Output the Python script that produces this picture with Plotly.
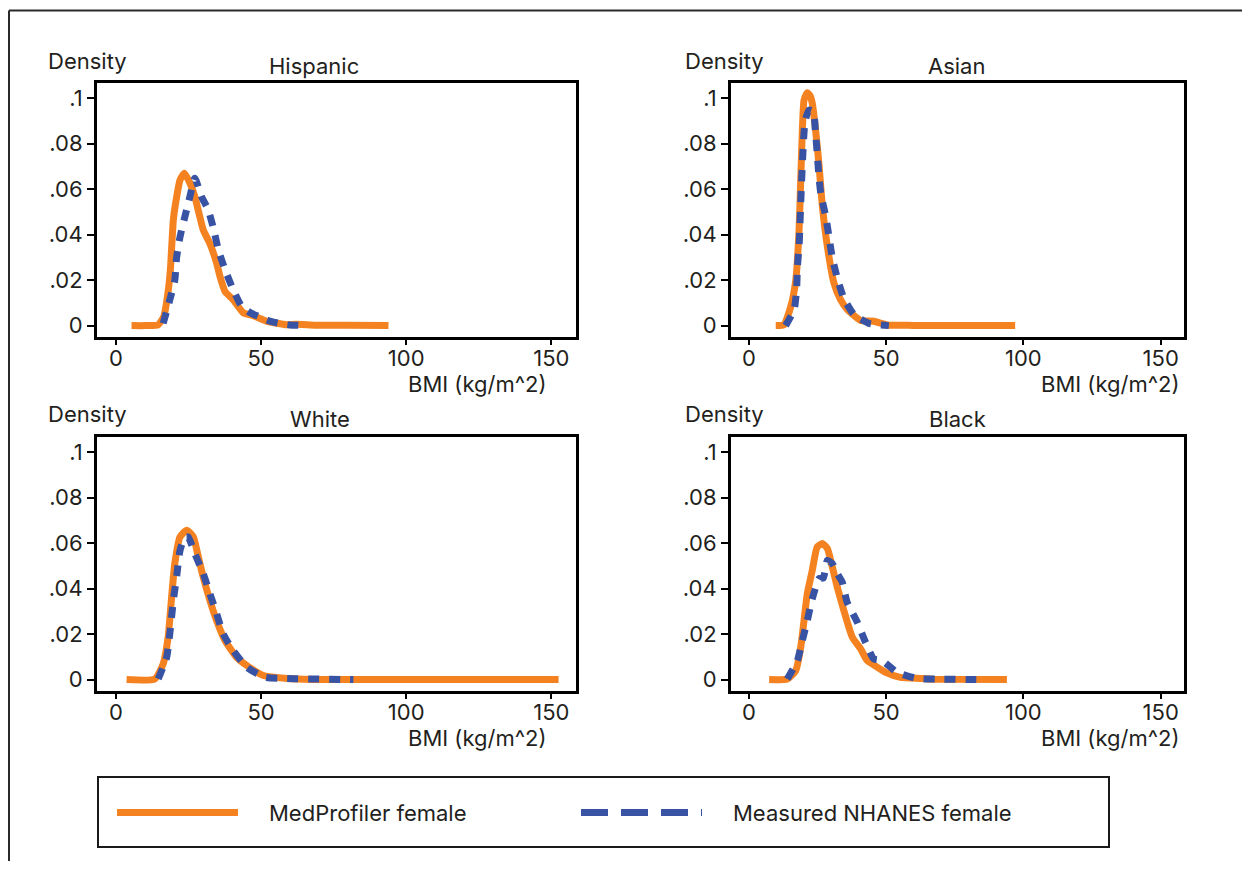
import plotly.graph_objects as go

# ---------------- data ----------------
panel_titles = ["Hispanic", "Asian", "White", "Black"]
x_ticks = [0, 50, 100, 150]
y_ticks = [0, 0.02, 0.04, 0.06, 0.08, 0.1]
y_tick_labels = ["0", ".02", ".04", ".06", ".08", ".1"]
series_names = ["MedProfiler female", "Measured NHANES female"]

hispanic_med_x = [5.4, 10, 14.5, 16.5, 18.0, 18.8, 19.8, 21.0, 22.1, 23.6, 25.5, 27.2, 28.5, 30.1, 32.4, 34.7, 36.0, 37.6, 40.4, 43.9, 46.2, 49.0, 52.0, 58.8, 62.0, 69.0, 80.0, 93.9]
hispanic_med_y = [0, 0, 0.0003, 0.004, 0.015, 0.025, 0.0465, 0.057, 0.064, 0.067, 0.0626, 0.0567, 0.050, 0.042, 0.036, 0.0275, 0.021, 0.015, 0.0114, 0.0056, 0.0048, 0.0035, 0.0019, 0.0004, 0.0006, 0.0002, 0.0002, 0]
hispanic_nh_x = [16.3, 18.6, 20.3, 20.9, 22.1, 23.8, 25.5, 27.2, 29.5, 31.8, 33.6, 35.3, 37.6, 40.4, 43.3, 46.5, 49.7, 53.0, 56.6, 60.0, 65.0]
hispanic_nh_y = [0.001, 0.0114, 0.020, 0.0297, 0.039, 0.048, 0.0567, 0.0648, 0.0567, 0.0509, 0.0428, 0.0333, 0.0246, 0.0158, 0.0085, 0.0055, 0.0038, 0.002, 0.0009, 0.0003, 0]

asian_med_x = [9.8, 12.8, 15.3, 17.1, 18.3, 18.9, 19.5, 20.1, 21.3, 22.3, 23.1, 24.3, 25.5, 26.8, 28.6, 31.0, 33.4, 35.9, 40.7, 45.5, 50.4, 60.0, 97.0]
asian_med_y = [0, 0.0004, 0.0085, 0.020, 0.042, 0.064, 0.086, 0.099, 0.1023, 0.101, 0.0977, 0.086, 0.0714, 0.0523, 0.0348, 0.0187, 0.0114, 0.007, 0.0023, 0.0019, 0.0003, 0.0001, 0]
asian_nh_x = [13.4, 16.5, 17.4, 17.7, 18.3, 18.6, 18.9, 19.2, 19.5, 19.9, 20.5, 21.9, 23.5, 24.3, 24.9, 25.5, 26.2, 28.0, 29.2, 30.4, 32.2, 34.6, 38.3, 43.7, 51.0]
asian_nh_y = [0, 0.007, 0.016, 0.026, 0.035, 0.044, 0.054, 0.063, 0.071, 0.081, 0.090, 0.0947, 0.094, 0.0845, 0.0757, 0.066, 0.058, 0.048, 0.039, 0.0297, 0.021, 0.012, 0.0048, 0.001, 0]

white_med_x = [3.7, 13.4, 16.3, 18.0, 19.2, 20.3, 22.1, 24.4, 26.7, 28.4, 30.1, 32.4, 34.7, 37.6, 41.6, 45.1, 50.8, 58.9, 68.0, 152.5]
white_med_y = [0, 0.0003, 0.0069, 0.0186, 0.0363, 0.051, 0.0627, 0.0656, 0.0627, 0.0539, 0.045, 0.0348, 0.026, 0.0172, 0.0098, 0.0062, 0.0018, 0.0005, 0.0001, 0]
white_nh_x = [14.6, 17.5, 18.7, 19.8, 21.0, 22.1, 23.8, 24.9, 27.2, 30.1, 32.4, 34.7, 37.0, 40.4, 45.1, 51.4, 58.9, 81.8]
white_nh_y = [0.0003, 0.0098, 0.0216, 0.0348, 0.046, 0.0568, 0.0627, 0.0627, 0.0554, 0.0466, 0.0377, 0.029, 0.020, 0.0128, 0.0054, 0.001, 0.0005, 0]

black_med_x = [7.4, 14.0, 17.1, 18.9, 20.1, 21.3, 23.1, 24.9, 26.8, 28.6, 30.4, 32.2, 34.6, 37.7, 40.7, 43.1, 44.9, 49.8, 55.2, 62.4, 67.2, 94.0]
black_med_y = [0, 0.0003, 0.004, 0.0142, 0.026, 0.0378, 0.048, 0.0583, 0.0598, 0.0576, 0.0495, 0.0407, 0.0304, 0.0186, 0.0135, 0.0084, 0.0069, 0.0032, 0.001, 0.0005, 0.0002, 0]
black_nh_x = [14.0, 17.7, 19.5, 21.3, 23.1, 25.6, 27.1, 28.6, 30.4, 32.2, 34.0, 35.8, 39.5, 42.5, 45.5, 48.5, 54.0, 61.3, 70.0, 84.9]
black_nh_y = [0.0003, 0.0084, 0.0172, 0.026, 0.0355, 0.0444, 0.0446, 0.0524, 0.051, 0.0466, 0.0429, 0.034, 0.0252, 0.0164, 0.0091, 0.0084, 0.0032, 0.0005, 0.0002, 0]

# ---------------- styling ----------------
# The page body has an 8px margin, so the figure is drawn 8px in from the
# top-left of the window; positions below are given in window pixels.
OFF = 8
W, H = 1250 - 2 * OFF, 869 - 2 * OFF
ORANGE = "#F58220"
BLUE = "#3853A4"
TEXT = "#231F20"
FONT = "Inter, Liberation Sans, Arial, sans-serif"
FS = 22


def px(x):
    return (x - OFF) / W


def py(y):
    return 1 - (y - OFF) / H


panels = [
    (hispanic_med_x, hispanic_med_y, hispanic_nh_x, hispanic_nh_y),
    (asian_med_x, asian_med_y, asian_nh_x, asian_nh_y),
    (white_med_x, white_med_y, white_nh_x, white_nh_y),
    (black_med_x, black_med_y, black_nh_x, black_nh_y),
]

# panel boxes in window pixels: (left, right, top, bottom)
boxes = [(97, 576, 83, 337), (731, 1184, 83, 337), (97, 576, 437, 691), (731, 1184, 437, 691)]

fig = go.Figure()
for i, (mx, my, nx, ny) in enumerate(panels):
    suf = "" if i == 0 else str(i + 1)
    fig.add_trace(go.Scatter(x=mx, y=my, mode="lines", name=series_names[0],
                             line=dict(color=ORANGE, width=7, shape="spline", smoothing=0.5),
                             xaxis="x" + suf, yaxis="y" + suf, showlegend=False))
    fig.add_trace(go.Scatter(x=nx, y=ny, mode="lines", name=series_names[1],
                             line=dict(color=BLUE, width=7, dash="11px,10px", shape="spline", smoothing=0.5),
                             xaxis="x" + suf, yaxis="y" + suf, showlegend=False))

layout = dict(width=W, height=H, margin=dict(l=0, r=0, t=0, b=0),
              paper_bgcolor="white", plot_bgcolor="white", showlegend=False,
              font=dict(family=FONT, size=FS, color=TEXT))

for i, (l, r, t, b) in enumerate(boxes):
    suf = "" if i == 0 else str(i + 1)
    layout["xaxis" + suf] = dict(domain=[px(l), px(r)], range=[-6.5, 158.5], anchor="y" + suf,
                                 tickvals=x_ticks, ticks="outside", ticklen=5, tickwidth=1.5, tickcolor="black",
                                 ticklabelstandoff=-5,
                                 showline=True, linewidth=3, linecolor="black", mirror=True,
                                 showgrid=False, zeroline=False, tickfont=dict(size=FS, color=TEXT, family=FONT))
    layout["yaxis" + suf] = dict(domain=[py(b), py(t)], range=[-0.0050, 0.1066], anchor="x" + suf,
                                 tickvals=y_ticks, ticktext=y_tick_labels, ticks="outside", ticklen=7,
                                 tickwidth=1.5, tickcolor="black",
                                 showline=True, linewidth=3, linecolor="black", mirror=True,
                                 showgrid=False, zeroline=False, tickfont=dict(size=FS, color=TEXT, family=FONT))

fig.update_layout(**layout)

ann = []
title_pos = [(314, 66), (956, 66), (320, 419), (958, 419)]
for name, (tx, ty) in zip(panel_titles, title_pos):
    ann.append(dict(x=px(tx), y=py(ty), xref="paper", yref="paper", text=name, showarrow=False,
                    xanchor="center", yanchor="middle", font=dict(size=FS, color=TEXT, family=FONT)))
for (dx, dy) in [(46, 61), (683, 61), (46, 414), (683, 414)]:
    ann.append(dict(x=px(dx), y=py(dy), xref="paper", yref="paper", text="Density", showarrow=False,
                    xanchor="left", yanchor="middle", font=dict(size=FS, color=TEXT, family=FONT)))
for (bx, by) in [(548, 384), (1181, 384), (548, 738), (1181, 738)]:
    ann.append(dict(x=px(bx), y=py(by), xref="paper", yref="paper", text="BMI (kg/m^2)", showarrow=False,
                    xanchor="right", yanchor="middle", font=dict(size=FS, color=TEXT, family=FONT)))
# legend texts
ann.append(dict(x=px(267), y=py(813), xref="paper", yref="paper", text=series_names[0], showarrow=False,
                xanchor="left", yanchor="middle", font=dict(size=FS, color=TEXT, family=FONT)))
ann.append(dict(x=px(731), y=py(813), xref="paper", yref="paper", text=series_names[1], showarrow=False,
                xanchor="left", yanchor="middle", font=dict(size=FS, color=TEXT, family=FONT)))

shapes = [
    # outer frame (left and top edges)
    dict(type="line", xref="paper", yref="paper", x0=px(9), x1=px(9), y0=-0.02, y1=py(10.5),
         line=dict(color="#2a2a2a", width=2)),
    dict(type="line", xref="paper", yref="paper", x0=px(9), x1=1.02, y0=py(10.5), y1=py(10.5),
         line=dict(color="#2a2a2a", width=2)),
    # legend box
    dict(type="rect", xref="paper", yref="paper", x0=px(98), x1=px(1109), y0=py(847), y1=py(777),
         line=dict(color="#1a1a1a", width=2), fillcolor="rgba(0,0,0,0)"),
    # legend samples
    dict(type="line", xref="paper", yref="paper", x0=px(117), x1=px(238), y0=py(812.5), y1=py(812.5),
         line=dict(color=ORANGE, width=7)),
    dict(type="line", xref="paper", yref="paper", x0=px(581), x1=px(702), y0=py(812.5), y1=py(812.5),
         line=dict(color=BLUE, width=7, dash="27px,13px")),
]
fig.update_layout(annotations=ann, shapes=shapes)

fig.write_html("out.html")
